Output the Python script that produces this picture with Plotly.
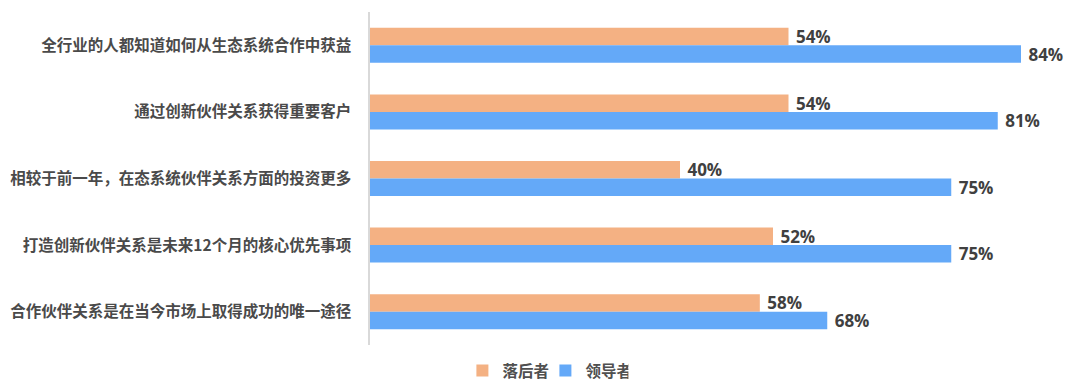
import plotly.graph_objects as go

categories = [
    "全行业的人都知道如何从生态系统合作中获益",
    "通过创新伙伴关系获得重要客户",
    "相较于前一年，在态系统伙伴关系方面的投资更多",
    "打造创新伙伴关系是未来12个月的核心优先事项",
    "合作伙伴关系是在当今市场上取得成功的唯一途径",
]
series_names = ["落后者", "领导者"]
laggard_values = [54, 54, 40, 52, 50.3]
leader_values = [84, 81, 75, 75, 59]
laggard_labels = ["54%", "54%", "40%", "52%", "58%"]
leader_labels = ["84%", "81%", "75%", "75%", "68%"]

colors = ["#F4B183", "#64A9F8"]
label_font = dict(family="Open Sans, Noto Sans CJK SC", size=17, color="#404040", weight="bold")

fig = go.Figure()
for name, vals, labs, col in [
    (series_names[0], laggard_values, laggard_labels, colors[0]),
    (series_names[1], leader_values, leader_labels, colors[1]),
]:
    fig.add_trace(go.Bar(
        y=categories, x=vals, orientation="h", name=name,
        marker=dict(color=col, line=dict(width=0)),
        text=[" " + t for t in labs], textposition="outside", textfont=label_font,
        constraintext="none", cliponaxis=False,
    ))

px_per_unit = 7.75
plot_w = 1080 - 370
fig.update_layout(
    width=1080, height=392,
    margin=dict(l=370, r=0, t=12, b=47),
    barmode="group", bargap=0.475, bargroupgap=0,
    plot_bgcolor="white", paper_bgcolor="white",
    font=dict(family="Noto Sans CJK SC", color="#505050"),
    xaxis=dict(range=[0, plot_w / px_per_unit], visible=False, showgrid=False, zeroline=False),
    yaxis=dict(autorange="reversed", showline=True, linecolor="#D9D9D9", linewidth=1.5,
               ticks="", showgrid=False, ticklabelstandoff=14,
               tickfont=dict(family="Noto Sans CJK SC", size=15.5, color="#4A4A4A", weight="bold")),
    legend=dict(orientation="h", xref="container", yref="container", x=0.505, xanchor="center",
                y=1 - 371 / 392, yanchor="middle",
                font=dict(family="Noto Sans CJK SC", size=15.5, color="#505050", weight="bold"),
                itemwidth=30, entrywidth=38, entrywidthmode="pixels"),
    showlegend=True,
)
fig.write_html("out.html", post_script="document.body.style.margin='0';",
               config={"displayModeBar": False})
